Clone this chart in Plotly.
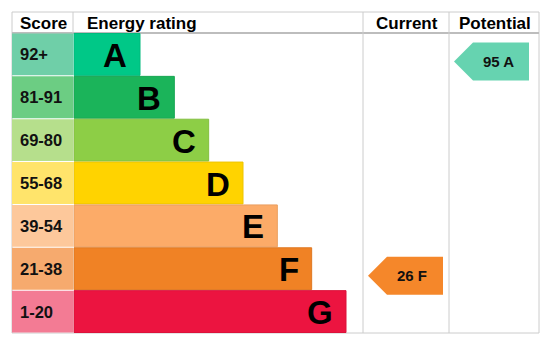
import plotly.graph_objects as go

# ---- data ----
ratings = ["A", "B", "C", "D", "E", "F", "G"]
score_ranges = ["92+", "81-91", "69-80", "55-68", "39-54", "21-38", "1-20"]
bar_colors = ["#00c887", "#1bb45a", "#8dce46", "#ffd300", "#fcab68", "#f08225", "#ec1440"]
score_colors = ["#6fcfa8", "#6ccd83", "#b6df8c", "#ffe46b", "#fdc89b", "#f6aa6e", "#f37b94"]
header_labels = ["Score", "Energy rating", "Current", "Potential"]
current_score = 26
current_rating = "F"
potential_score = 95
potential_rating = "A"

# ---- layout geometry (pixels) ----
W, H = 551, 346
L, R, T, HB, B = 12, 539, 12, 33, 333
score_right, energy_right, cur_right = 73, 363, 449
row_h = (B - HB) / 7
bar_min, bar_max = 66, 272
bar_step = (bar_max - bar_min) / 6
FONT = "Liberation Sans, Arial, sans-serif"
GRID = "#cccccc"

centers = [HB + (i + 0.5) * row_h for i in range(len(ratings))]
lengths = [bar_min + bar_step * i for i in range(len(ratings))]

fig = go.Figure()

# score cells
fig.add_trace(go.Bar(
    orientation="h", y=centers, x=[score_right - L] * len(ratings), base=L,
    width=row_h - 1, marker=dict(color=score_colors, line=dict(width=0)),
    hoverinfo="skip", showlegend=False))

# rating bars
def darker(hexc, f=0.9):
    r, g, b = int(hexc[1:3], 16), int(hexc[3:5], 16), int(hexc[5:7], 16)
    return "rgb(%d,%d,%d)" % (r * f, g * f, b * f)

fig.add_trace(go.Bar(
    orientation="h", y=centers, x=lengths, base=score_right + 1,
    width=row_h - 1,
    marker=dict(color=bar_colors, line=dict(width=1, color=[darker(c, 0.93) for c in bar_colors])),
    hoverinfo="skip", showlegend=False))

annotations = []
# rating letters
for i, r in enumerate(ratings):
    annotations.append(dict(
        x=score_right + 1 + lengths[i] - 11, y=centers[i] + 1, xref="x", yref="y",
        text="<b>%s</b>" % r, showarrow=False, xanchor="right", yanchor="middle",
        font=dict(family=FONT, size=33, color="#000000")))
    annotations.append(dict(
        x=18, y=centers[i], xref="x", yref="y",
        text="<b>%s</b>" % score_ranges[i], showarrow=False, xanchor="left", yanchor="middle",
        font=dict(family=FONT, size=16.5, color="#111111")))

# headers
hy = (T + HB) / 2 + 0.5
annotations.append(dict(x=(L + score_right) / 2 + 0.5, y=hy, text="<b>%s</b>" % header_labels[0]))
annotations.append(dict(x=85, y=hy, text="<b>%s</b>" % header_labels[1], xanchor="left"))
annotations.append(dict(x=(energy_right + cur_right) / 2 + 1, y=hy, text="<b>%s</b>" % header_labels[2]))
annotations.append(dict(x=(cur_right + R) / 2 + 1, y=hy, text="<b>%s</b>" % header_labels[3]))
for a in annotations[-4:]:
    a.update(xref="x", yref="y", showarrow=False, yanchor="middle",
             font=dict(family=FONT, size=17, color="#000000"))
    a.setdefault("xanchor", "center")

shapes = []

def arrow(col_left, col_right, rating, value, color, right_pad):
    idx = ratings.index(rating)
    cy = centers[idx] + 7
    hh = 19
    tip = col_left + 5
    body = tip + 19
    right = col_right - right_pad
    path = "M %f,%f L %f,%f L %f,%f L %f,%f L %f,%f Z" % (
        tip, cy, body, cy - hh, right, cy - hh, right, cy + hh, body, cy + hh)
    shapes.append(dict(type="path", path=path, xref="x", yref="y",
                       fillcolor=color, line=dict(width=0), layer="above"))
    annotations.append(dict(x=(body + right) / 2 - 3, y=cy, xref="x", yref="y",
                            text="<b>%d %s</b>" % (value, rating), showarrow=False,
                            xanchor="center", yanchor="middle",
                            font=dict(family=FONT, size=15, color="#111111")))

arrow(energy_right, cur_right, current_rating, current_score, "#f5872a", 6)
arrow(cur_right, R, potential_rating, potential_score, "#66d3b0", 10)

# grid lines
def line(x0, y0, x1, y1, color=GRID, w=1):
    shapes.append(dict(type="line", x0=x0, y0=y0, x1=x1, y1=y1, xref="x", yref="y",
                       line=dict(color=color, width=w), layer="below"))

line(L, T, R, T)
line(L, T, L, B)
line(R, T, R, B)
line(L, B, R, B)
line(L, HB, R, HB, "#bdbdbd", 2)
line(score_right, T, score_right, HB)
line(energy_right, T, energy_right, B)
line(cur_right, T, cur_right, B)

fig.update_layout(
    width=W, height=H, margin=dict(l=0, r=0, t=0, b=0),
    paper_bgcolor="white", plot_bgcolor="white",
    xaxis=dict(range=[0, W], visible=False, fixedrange=True),
    yaxis=dict(range=[H, 0], visible=False, fixedrange=True),
    barmode="overlay", shapes=shapes, annotations=annotations,
    showlegend=False,
)

fig.write_html("out.html", config={"displayModeBar": False})
